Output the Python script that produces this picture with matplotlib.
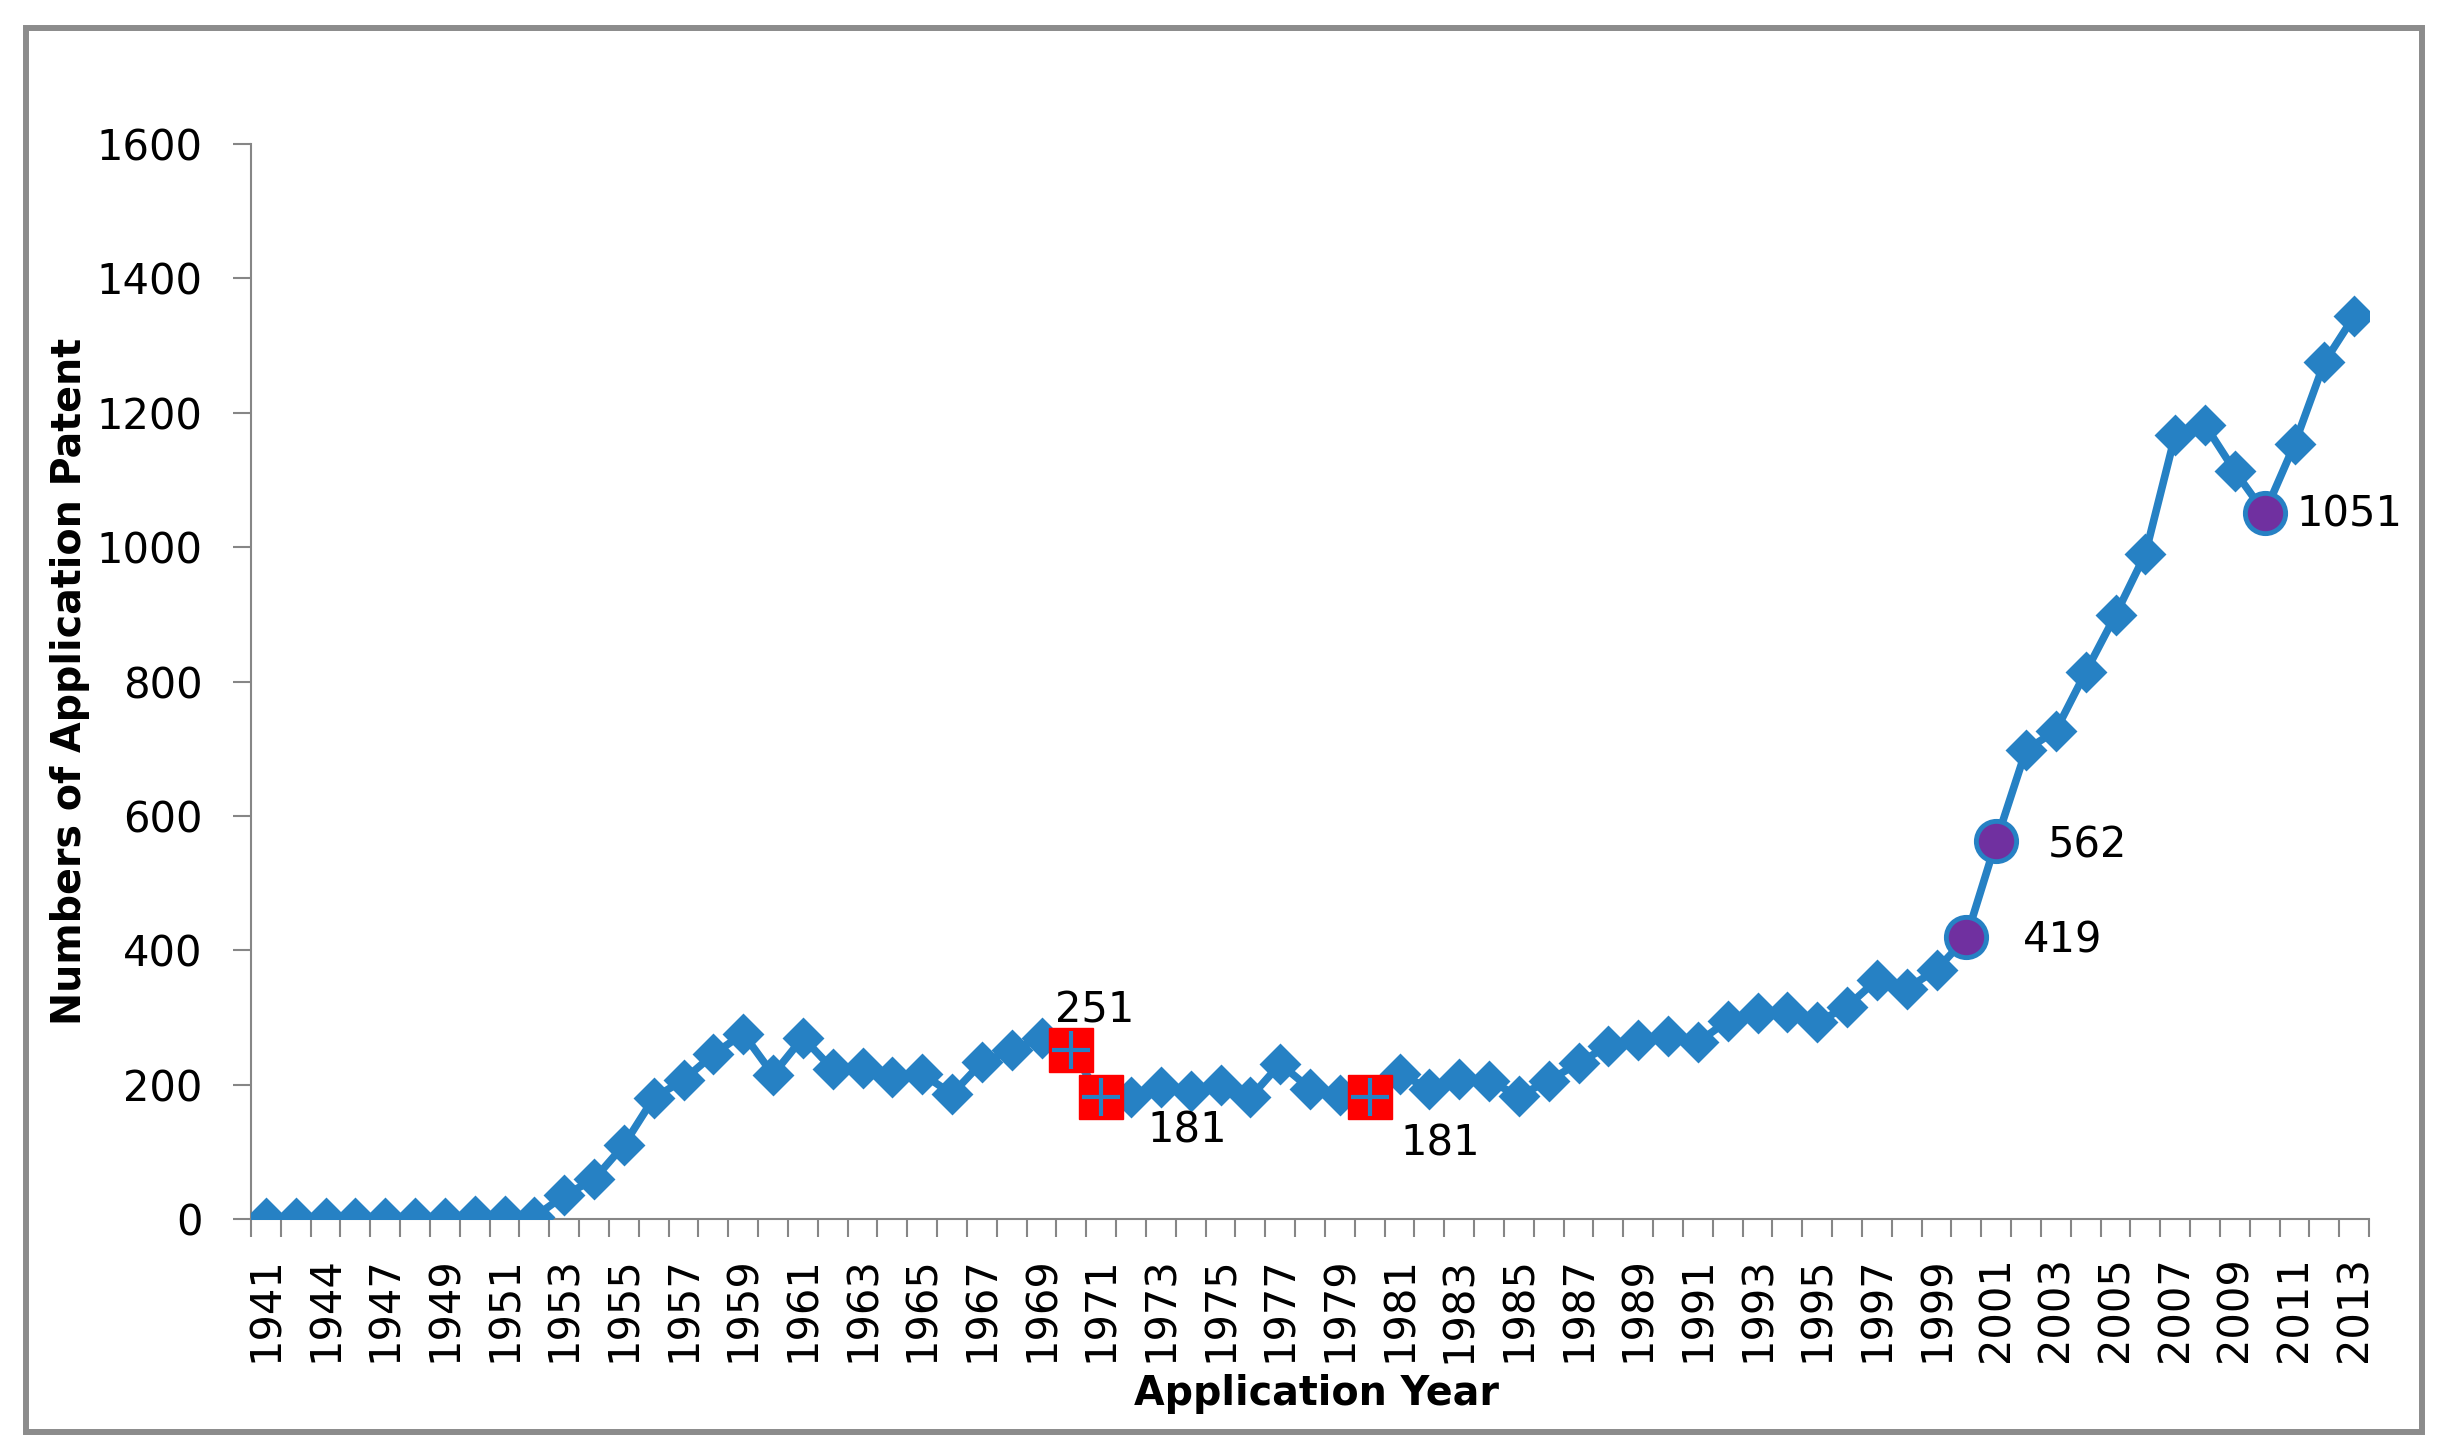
import matplotlib.pyplot as plt
from matplotlib.patches import Rectangle

# years on the category axis (two early years are not labelled in the source)
years = ['1941', '1942', '1944', '1945'] + [str(y) for y in range(1947, 2014)]
patents = [2, 2, 2, 2,
           2, 2, 2, 5, 5, 3, 35, 59, 110, 180,
           207, 245, 276, 215, 270, 223, 225, 211, 216, 186,
           233, 251, 270, 251, 181, 181, 196, 190, 199, 181,
           231, 194, 184, 181, 216, 194, 209, 206, 183, 206,
           232, 258, 266, 273, 263, 295, 306, 308, 293, 316,
           356, 343, 371, 419, 562, 698, 727, 814, 899, 990,
           1167, 1182, 1113, 1051, 1153, 1275, 1344]

red_years = ['1970', '1971', '1980']
purple_years = ['2000', '2001', '2010']
# label offsets in points
label_offsets = {'1970': (17, 29), '1971': (62, -24), '1980': (51, -33),
                 '2000': (69, -2), '2001': (66, -3), '2010': (61, -1)}

blue = '#2681C4'
grey = '#868686'

fig = plt.figure(figsize=(24.53, 14.55), dpi=100)
ax = fig.add_axes([0.1023, 0.1622, 0.8635, 0.7388])

x = list(range(len(years)))
ax.plot(x, patents, color=blue, lw=5.5, marker='D', ms=19,
        mfc=blue, mec=blue, mew=2, zorder=3)

for yr in red_years:
    i = years.index(yr)
    ax.plot(i, patents[i], marker='s', ms=32, color='#FF0000', zorder=4)
    ax.plot(i, patents[i], marker='+', ms=28, mew=3, color=blue, zorder=5)

for yr in purple_years:
    i = years.index(yr)
    ax.plot(i, patents[i], marker='o', ms=29, mfc='#7030A0', mec=blue,
            mew=3.5, zorder=4)

for yr, (dx, dy) in label_offsets.items():
    i = years.index(yr)
    ax.annotate(str(patents[i]), (i, patents[i]), xytext=(dx, dy),
                textcoords='offset points', ha='center', va='center',
                fontsize=30, zorder=6)

ax.set_xlim(-0.5, len(years) - 0.5)
ax.set_ylim(0, 1600)
ax.set_yticks(range(0, 1601, 200))

# ticks on category boundaries, labels on every other category
ax.set_xticks([i - 0.5 for i in range(len(years) + 1)])
ax.set_xticklabels([])
ax.set_xticks(x[::2], minor=True)
ax.set_xticklabels(years[::2], minor=True, rotation=90, fontsize=30)
ax.tick_params(axis='x', which='minor', length=0, pad=27)
ax.tick_params(axis='x', which='major', length=13, width=1.5, color=grey)
ax.tick_params(axis='y', length=13, width=1.5, color=grey, pad=22,
               labelsize=30)

for side in ['top', 'right']:
    ax.spines[side].set_visible(False)
for side in ['left', 'bottom']:
    ax.spines[side].set_color(grey)
    ax.spines[side].set_linewidth(1.5)

fig.text(1316 / 2453, 1 - 1394 / 1455, 'Application Year', ha='center',
         va='center', fontsize=28.5, fontweight='bold')
fig.text(70 / 2453, 1 - 681 / 1455, 'Numbers of Application Patent',
         ha='center', va='center', rotation=90, fontsize=28.5,
         fontweight='bold')

# grey frame around the whole chart
fig.patches.append(Rectangle((26 / 2453, 1 - 1432 / 1455),
                             (2422 - 26) / 2453, (1432 - 28) / 1455,
                             transform=fig.transFigure, fill=False,
                             ec='#8c8c8c', lw=4.3))

fig.savefig('out.png', dpi=100, facecolor='white')
